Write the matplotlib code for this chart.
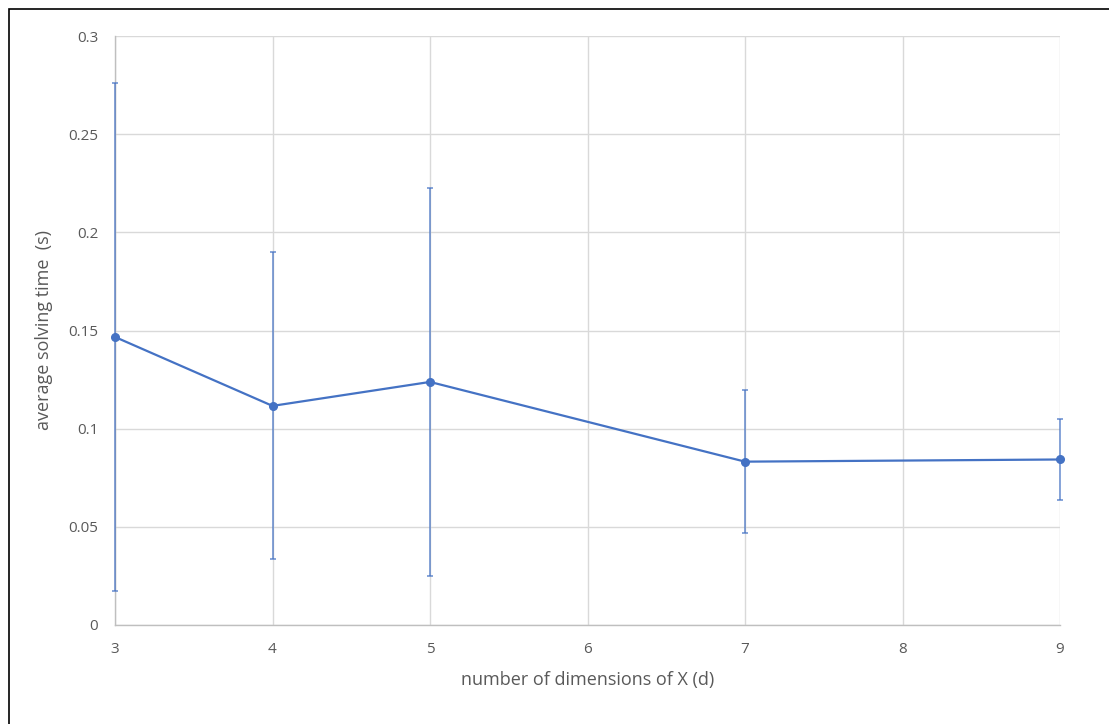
import matplotlib.pyplot as plt
from matplotlib.patches import Rectangle

# dimensions of X and measured average solving times
dims = [3, 4, 5, 7, 9]
avg_time = [0.1467, 0.1116, 0.1238, 0.0832, 0.0843]
err = [0.1295, 0.0782, 0.0988, 0.0364, 0.0207]

xticks = [3, 4, 5, 6, 7, 8, 9]
yticks = [0, 0.05, 0.1, 0.15, 0.2, 0.25, 0.3]
ytick_labels = ['0', '0.05', '0.1', '0.15', '0.2', '0.25', '0.3']

plt.rcParams['font.family'] = ['Open Sans', 'DejaVu Sans']

blue = '#4472C4'
grey_txt = '#595959'

fig = plt.figure(figsize=(11.09, 7.24), dpi=100)
ax = fig.add_axes([115 / 1109, 1 - 625 / 724, 945 / 1109, 589 / 724])

# outer chart border (cut off on right/bottom in the original)
fig.patches.append(Rectangle((9 / 1109, -0.05), 1.2, 1 - 9 / 724 + 0.05,
                             transform=fig.transFigure, fill=False,
                             edgecolor='black', linewidth=1.2))

ax.errorbar(dims, avg_time, yerr=err, fmt='none', ecolor=blue, alpha=0.75,
            elinewidth=1.2, capsize=2.5, capthick=1.2, clip_on=False, zorder=3)
ax.plot(dims, avg_time, color=blue, linewidth=1.6, marker='o', markersize=5.5,
        clip_on=False, zorder=4)

ax.set_xlim(3, 9)
ax.set_ylim(0, 0.3)
ax.set_xticks(xticks)
ax.set_xticklabels([str(x) for x in xticks])
ax.set_yticks(yticks)
ax.set_yticklabels(ytick_labels)
ax.tick_params(length=0, labelsize=11, labelcolor=grey_txt, pad=12)
ax.tick_params(axis='x', pad=12)

ax.grid(True, color='#D9D9D9', linewidth=1)
ax.set_axisbelow(True)
for s in ['top', 'right']:
    ax.spines[s].set_visible(False)
for s in ['left', 'bottom']:
    ax.spines[s].set_color('#BFBFBF')
    ax.spines[s].set_linewidth(1)

ax.set_xlabel('number of dimensions of X (d)', fontsize=13, color=grey_txt, labelpad=10)
ax.set_ylabel('average solving time  (s)', fontsize=13, color=grey_txt)
ax.yaxis.set_label_coords(-0.0656, 0.5)

fig.savefig('out.png', dpi=100)
